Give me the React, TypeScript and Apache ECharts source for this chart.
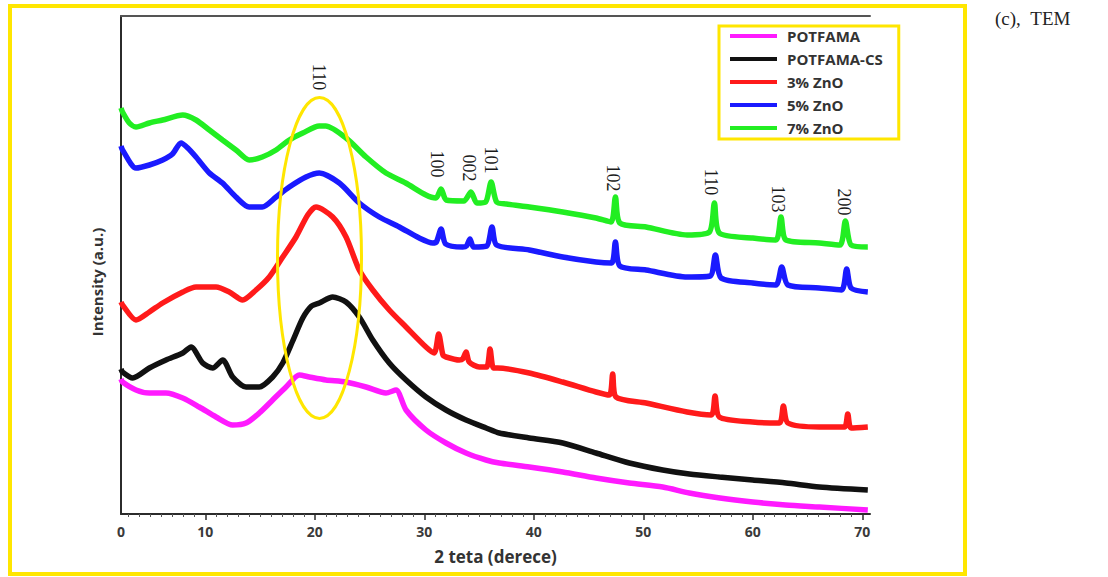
import React, { useEffect, useRef } from "react";
import * as echarts from "echarts";

// 2θ (degrees) vs intensity (a.u.)
const potfama: [number, number][] = [
  [2.3, 135], [2.44, 132], [3.67, 124], [4.89, 121], [6.41, 121], [7.94, 116], [9.45, 107],
  [10.98, 97], [12.5, 89], [13.72, 91], [14.93, 101], [16.15, 114], [17.37, 127], [18.59, 139],
  [19.5, 137], [21.02, 134], [22.85, 132], [24.68, 127], [26.5, 121], [27.42, 124], [28.33, 104],
  [30.15, 84], [31.98, 71], [33.81, 61], [35.64, 54], [36.85, 51], [39.59, 47], [42.64, 42],
  [45.68, 36], [48.72, 31], [51.77, 27], [54.2, 21], [57.0, 16], [60.0, 12], [63.0, 9],
  [66.07, 7], [70.5, 4],
];

const potfamaCs: [number, number][] = [
  [2.3, 145], [2.44, 142], [3.37, 136], [4.89, 146], [6.41, 154], [7.94, 161], [8.7, 167],
  [9.76, 151], [10.67, 146], [11.59, 154], [12.5, 137], [13.72, 127], [14.93, 127], [16.15, 137],
  [17.07, 151], [17.98, 173], [18.9, 196], [19.7, 208], [20.41, 211], [21.63, 217], [22.85, 212],
  [24.06, 197], [25.29, 174], [26.8, 151], [28.33, 134], [30.15, 117], [31.98, 104], [33.81, 94],
  [35.64, 86], [36.85, 81], [39.59, 76], [42.64, 71], [45.68, 61], [48.72, 51], [51.77, 44],
  [54.2, 40], [56.94, 37], [59.99, 34], [63.03, 31], [66.07, 27], [70.5, 24],
];

const zno3: [number, number][] = [
  [2.3, 212], [2.44, 209], [3.67, 194], [4.89, 202], [6.1, 211], [7.94, 222], [9.15, 227],
  [10.98, 227], [12.19, 222], [13.41, 214], [14.63, 224], [15.84, 237], [17.07, 257], [18.28, 277],
  [19.35, 299], [20.11, 307], [21.63, 297], [22.85, 277], [24.06, 244], [25.29, 224], [26.8, 204],
  [28.33, 187], [30.15, 167], [30.91, 161], [31.31, 180], [31.7, 159], [31.98, 157], [33.2, 154],
  [33.5, 155], [33.81, 162], [34.1, 152], [35.02, 147], [35.7, 147], [36.0, 165], [36.3, 146],
  [36.7, 146], [39.59, 141], [42.64, 132], [45.68, 122], [46.9, 119], [47.2, 140], [47.5, 117],
  [50.25, 111], [54.0, 102], [56.2, 99], [56.55, 118], [56.94, 97], [59.99, 92], [62.42, 91],
  [62.79, 108], [63.2, 91], [66.07, 87], [68.36, 87], [68.67, 100], [68.97, 86], [70.5, 87],
];

const zno5: [number, number][] = [
  [2.3, 368], [2.44, 364], [3.67, 346], [4.89, 349], [6.1, 354], [7.0, 360], [7.78, 371],
  [8.4, 366], [9.15, 357], [10.37, 341], [11.57, 331], [12.8, 317], [14.0, 307], [15.2, 307],
  [16.46, 317], [17.67, 327], [19.19, 337], [20.41, 341], [22.24, 331], [24.06, 311], [25.89, 297],
  [27.72, 287], [29.54, 276], [30.76, 271], [31.1, 272], [31.53, 285], [31.95, 270], [33.5, 267],
  [33.85, 268], [34.17, 275], [34.5, 267], [35.7, 268], [36.18, 287], [36.6, 269], [39.59, 264],
  [42.64, 257], [45.68, 252], [47.1, 251], [47.45, 272], [47.85, 248], [50.25, 244], [54.0, 237],
  [56.1, 238], [56.58, 259], [57.1, 236], [59.99, 231], [62.1, 229], [62.64, 247], [63.2, 229],
  [66.07, 226], [68.1, 224], [68.57, 245], [68.97, 226], [70.5, 222],
];

const zno7: [number, number][] = [
  [2.3, 406], [2.44, 402], [3.06, 391], [3.67, 387], [4.89, 391], [6.1, 394], [7.94, 399],
  [9.15, 394], [10.37, 384], [11.57, 374], [12.8, 364], [14.0, 354], [15.2, 357], [16.46, 364],
  [17.67, 374], [18.9, 381], [20.4, 388], [21.0, 388], [22.85, 376], [24.68, 357], [26.5, 341],
  [28.3, 331], [30.15, 319], [31.06, 316], [31.53, 325], [32.0, 314], [33.6, 313], [34.26, 322],
  [34.8, 311], [35.6, 312], [36.1, 332], [36.6, 312], [37.5, 310], [39.59, 307], [42.64, 302],
  [45.68, 296], [47.05, 292], [47.45, 317], [47.85, 291], [50.25, 287], [54.0, 279], [56.03, 282],
  [56.49, 311], [56.94, 281], [59.99, 276], [62.1, 274], [62.57, 297], [63.03, 274], [66.07, 271],
  [67.95, 269], [68.45, 293], [68.97, 269], [70.5, 267],
];

const seriesNames = ["POTFAMA", "POTFAMA-CS", "3% ZnO", "5% ZnO", "7% ZnO"];
const seriesData = [potfama, potfamaCs, zno3, zno5, zno7];
const seriesColors = ["#ff1aff", "#111111", "#ff1a1a", "#1a1aff", "#22ee22"];

const xMin = 2.3;
const xMax = 70.7;
const xMajorTicks = [10, 20, 30, 40, 50, 60, 70];
const xMinorTicks = [3, 4, 5, 6, 7, 8, 9, 11, 12, 13, 14, 15, 16, 17, 18, 19, 21, 22, 23, 24, 25, 26, 27, 28, 29,
  31, 32, 33, 34, 35, 36, 37, 38, 39, 41, 42, 43, 44, 45, 46, 47, 48, 49, 51, 52, 53, 54, 55, 56, 57, 58, 59,
  61, 62, 63, 64, 65, 66, 67, 68, 69];

// peak annotations: [2θ, intensity position, label]
const peakLabels: [number, number, string][] = [
  [20.4, 437, "110"],
  [31.16, 350, "100"],
  [34.08, 346, "002"],
  [36.09, 354, "101"],
  [47.23, 336, "102"],
  [56.19, 332, "110"],
  [62.3, 315, "103"],
  [68.3, 312, "200"],
];

export default function App() {
  const ref = useRef<HTMLDivElement>(null);

  useEffect(() => {
    if (!ref.current) return;
    const chart = echarts.init(ref.current, undefined, { renderer: "svg" });
    const axisColor = "#2b2b2b";
    const option: any = {
      animation: false,
      textStyle: { fontFamily: "Open Sans" },
      grid: { left: 121, right: 238, top: 16, bottom: 63, containLabel: false },
      legend: {
        data: seriesNames,
        orient: "vertical",
        left: 719,
        top: 26,
        icon: "rect",
        itemWidth: 47,
        itemHeight: 4,
        itemGap: 7,
        padding: [2, 16, 3, 11],
        borderColor: "#ffe600",
        borderWidth: 3,
        selectedMode: false,
        textStyle: {
          fontSize: 15,
          fontWeight: "bold",
          color: "#333",
          lineHeight: 16,
          padding: [0, 0, 0, 5],
        },
      },
      xAxis: [
        {
          type: "value",
          min: xMin,
          max: xMax,
          position: "bottom",
          axisLine: { show: true, onZero: false, lineStyle: { color: axisColor, width: 2 } },
          axisTick: { show: true, customValues: xMajorTicks, length: 6, lineStyle: { color: axisColor, width: 1.5 } },
          axisLabel: {
            customValues: [xMin, ...xMajorTicks],
            formatter: (v: number) => (v === xMin ? "0" : String(v)),
            margin: 10,
            fontSize: 14,
            fontWeight: "bold",
            color: "#3a3a3a",
          },
          splitLine: { show: false },
          name: "2 teta (derece)",
          nameLocation: "middle",
          nameGap: 34,
          nameTextStyle: { fontSize: 17, fontWeight: "bold", color: "#333" },
        },
        {
          type: "value",
          min: xMin,
          max: xMax,
          position: "bottom",
          axisLine: { show: false },
          axisTick: { show: true, customValues: xMinorTicks, length: 3, lineStyle: { color: "#555", width: 1 } },
          axisLabel: { show: false },
          splitLine: { show: false },
        },
        {
          type: "value",
          min: xMin,
          max: xMax,
          position: "top",
          axisLine: { show: true, lineStyle: { color: "#555", width: 2 } },
          axisTick: { show: false },
          axisLabel: { show: false },
          splitLine: { show: false },
        },
      ],
      yAxis: {
        type: "value",
        min: 0,
        max: 498,
        axisLine: { show: true, lineStyle: { color: axisColor, width: 2 } },
        axisTick: { show: false },
        axisLabel: { show: false },
        splitLine: { show: false },
      },
      series: seriesData.map((d, i) => ({
        name: seriesNames[i],
        type: "line",
        xAxisIndex: 0,
        data: d,
        showSymbol: false,
        symbol: "none",
        smooth: 0.25,
        lineStyle: { color: seriesColors[i], width: 5.5 },
        itemStyle: { color: seriesColors[i] },
        z: 2 + i,
        markPoint:
          i === 4
            ? {
                symbol: "circle",
                symbolSize: 0,
                silent: true,
                itemStyle: { color: "transparent" },
                label: {
                  show: true,
                  position: "inside",
                  formatter: "{b}",
                  rotate: -90,
                  fontFamily: "Liberation Serif",
                  fontSize: 18,
                  color: "#1a1a1a",
                },
                data: peakLabels.map(([x, y, t]) => ({ name: t, coord: [x, y] })),
              }
            : undefined,
      })),
      graphic: [
        {
          type: "rect",
          shape: { x: 10, y: 6, width: 955, height: 568 },
          style: { fill: "none", stroke: "#ffe600", lineWidth: 4 },
          z: 0,
          silent: true,
        },
        {
          type: "ellipse",
          shape: { cx: 319.5, cy: 258, rx: 42, ry: 160.5 },
          style: { fill: "none", stroke: "#ffe600", lineWidth: 3 },
          z: 100,
          silent: true,
        },
        {
          type: "text",
          x: 97,
          y: 282,
          rotation: Math.PI / 2,
          style: {
            text: "Intensity (a.u.)",
            fontFamily: "Open Sans",
            fontSize: 15,
            fontWeight: "bold",
            fill: "#333",
            align: "center",
            verticalAlign: "middle",
          },
        },
        {
          type: "text",
          x: 995,
          y: 18,
          style: {
            text: "(c),\u00a0\u00a0TEM",
            fontFamily: "Liberation Serif",
            fontSize: 19,
            fill: "#222",
            align: "left",
            verticalAlign: "middle",
          },
        },
      ],
    };
    chart.setOption(option);
    return () => chart.dispose();
  }, []);

  return (
    <div
      ref={ref}
      style={{ position: "fixed", left: 0, top: 0, width: 1108, height: 577, background: "#fff" }}
    />
  );
}
